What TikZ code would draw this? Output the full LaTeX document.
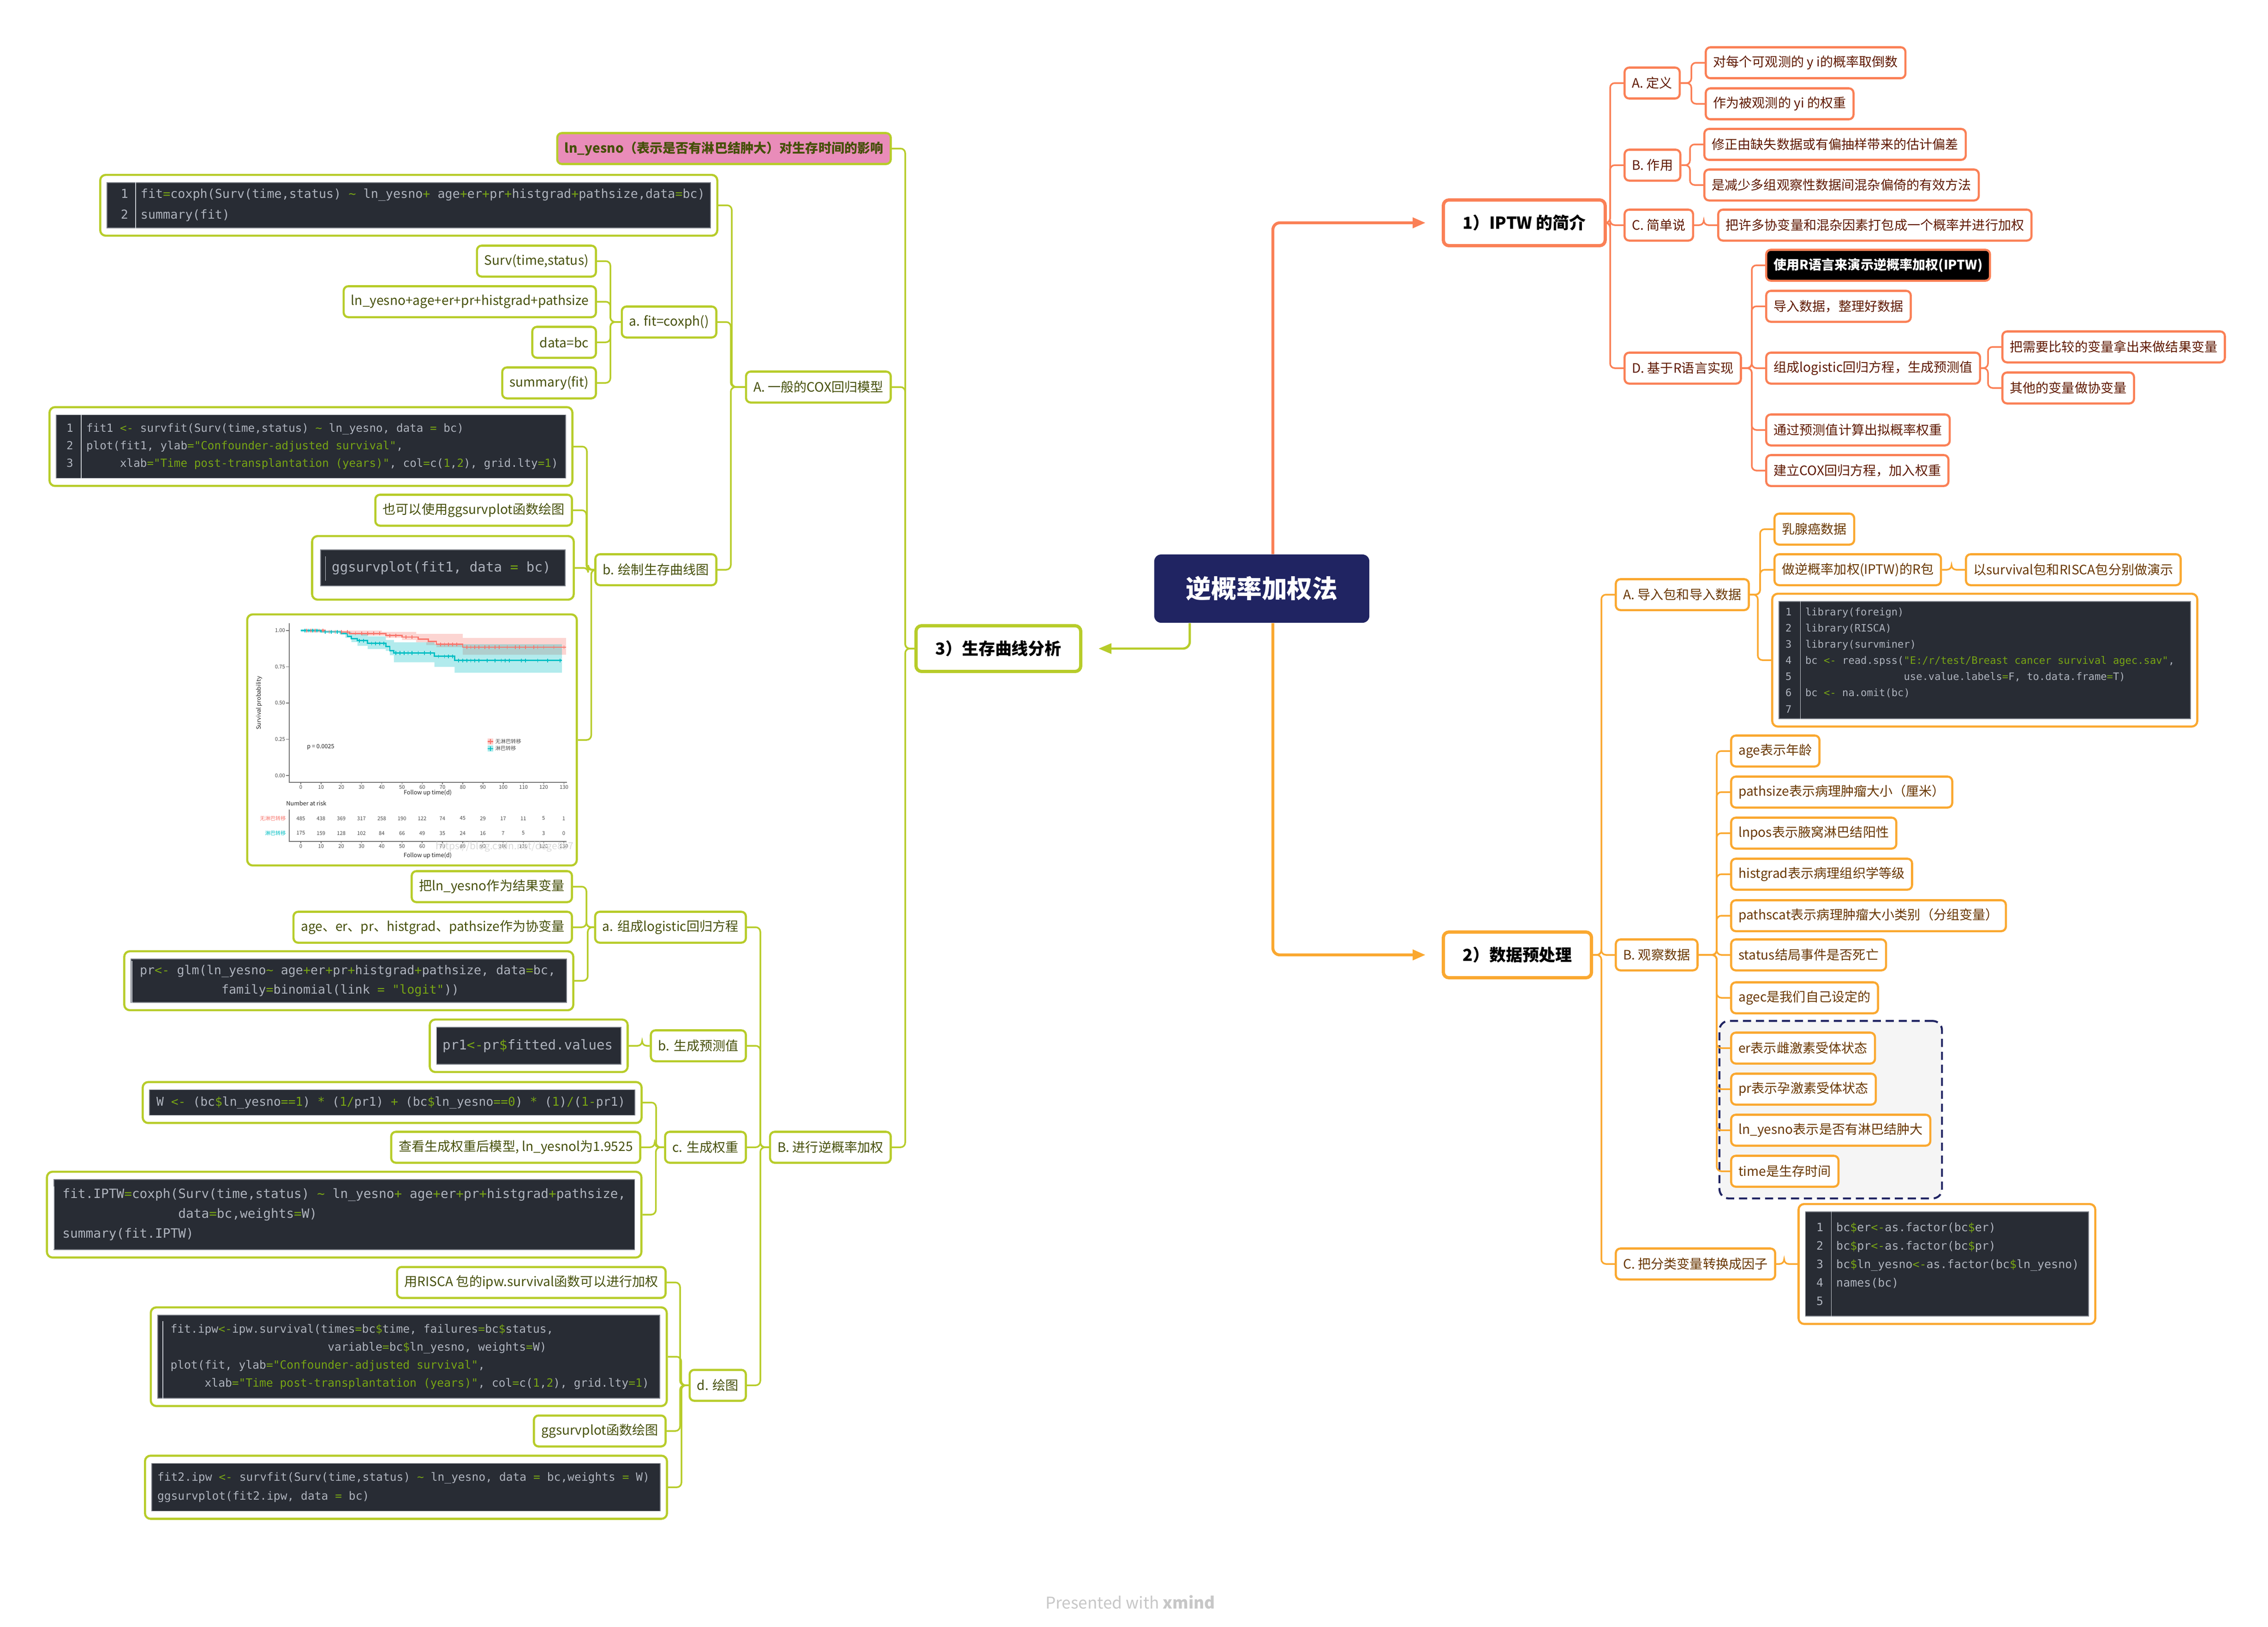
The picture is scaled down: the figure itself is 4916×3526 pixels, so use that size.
\documentclass[tikz,border=0pt]{standalone}
\usepackage{fontspec}
\setmainfont{Noto Sans CJK SC}
\setmonofont{DejaVu Sans Mono}
\usetikzlibrary{arrows.meta, positioning, calc, fit, backgrounds}

\definecolor{coral}{RGB}{250,128,86}
\definecolor{amber}{RGB}{250,168,48}
\definecolor{lime}{RGB}{183,204,42}
\definecolor{navy}{RGB}{32,36,98}
\definecolor{pinkfill}{RGB}{233,140,185}
\definecolor{coraltxt}{RGB}{95,25,0}
\definecolor{ambertxt}{RGB}{105,55,0}
\definecolor{limetxt}{RGB}{70,80,10}
\definecolor{codebg}{RGB}{40,44,52}
\definecolor{codetxt}{RGB}{175,180,190}
\definecolor{codegrn}{RGB}{120,165,20}
\definecolor{codeline}{RGB}{120,124,132}
\definecolor{kmred}{RGB}{248,118,109}
\definecolor{kmcyan}{RGB}{0,191,196}
\definecolor{groupbg}{RGB}{245,245,245}

\newcommand{\grn}[1]{\textcolor{codegrn}{#1}}
\newcommand{\lno}[1]{\makebox[0.28cm][l]{#1}\hspace{0.15cm}}
\newcommand{\ind}[1]{\hspace*{#1\fontcharwd\font`x}}
\newcommand{\codesz}[2]{\fontsize{#1}{#2}\selectfont\ttfamily}
\newcommand{\tld}{\textasciitilde}

\begin{document}
\begin{tikzpicture}[x=0.01cm, y=-0.01cm,
    rootbox/.style={fill=navy, rounded corners=0.15cm, minimum width=4.66cm, minimum height=1.48cm, text=white, font=\fontsize{15.6}{18}\selectfont\bfseries},
    maintopic/.style={draw, fill=white, rounded corners=0.12cm, line width=2pt, minimum height=0.99cm, inner xsep=0.42cm, font=\fontsize{10.2}{12}\selectfont\bfseries},
    topic/.style={draw, fill=white, rounded corners=0.1cm, line width=1.3pt, minimum height=0.67cm, inner xsep=0.16cm, font=\fontsize{8}{10}\selectfont},
    iptw/.style={topic, draw=coral, text=coraltxt},
    prep/.style={topic, draw=amber, text=ambertxt},
    surv/.style={topic, draw=lime, text=limetxt},
    codepanel/.style={fill=codebg, draw=codeline, line width=0.5pt, inner sep=0pt},
    codetext/.style={anchor=west, align=left, text=codetxt, inner sep=0pt},
    codeframe/.style={draw, rounded corners=0.12cm, line width=1.3pt, inner xsep=0.14cm, inner ysep=0.16cm},
    codesep/.style={draw=codetxt!70, line width=0.5pt},
    plotframe/.style={draw=lime, fill=white, rounded corners=0.12cm, line width=1.3pt, minimum width=7.14cm, minimum height=5.44cm},
    plotaxis/.style={draw=black!55, line width=0.4pt},
    plottxt/.style={font=\fontsize{3.2}{4}\selectfont, text=black!70, inner sep=0.5pt},
    plotlbl/.style={font=\fontsize{3.6}{4}\selectfont, text=black!85, inner sep=0.5pt},
    conn/.style={line width=1pt, rounded corners=0.1cm},
    elbowr/.style={to path={-- ($(\tikztostart -| \tikztotarget)+(-0.29cm,0)$) |- (\tikztotarget)}},
    elbowl/.style={to path={-- ($(\tikztostart -| \tikztotarget)+(0.29cm,0)$) |- (\tikztotarget)}},
    rootlink/.style={line width=1.8pt, rounded corners=0.15cm, -{Triangle[length=0.28cm, width=0.22cm]}, shorten >=0.35cm}
]
\useasboundingbox (0,0) rectangle (4916,3526);

% Central topic
\node[rootbox] (root) at (2735,1276) {逆概率加权法};

% Main topics
\node[maintopic, draw=coral, anchor=west] (t1) at (3125,483) {1）IPTW 的简介};
\node[maintopic, draw=amber, anchor=west] (t2) at (3125,2070) {2）数据预处理};
\node[maintopic, draw=lime, anchor=east] (t3) at (2346,1406) {3）生存曲线分析};

% 1) IPTW
\node[iptw, anchor=west] (i1) at (3519,180) {A. 定义};
\node[iptw, anchor=west] (i2) at (3519,358) {B. 作用};
\node[iptw, anchor=west] (i3) at (3519,488) {C. 简单说};
\node[iptw, anchor=west] (i4) at (3519,798) {D. 基于R语言实现};
\node[iptw, anchor=west] (i11) at (3695,136) {对每个可观测的 y i的概率取倒数};
\node[iptw, anchor=west] (i12) at (3695,225) {作为被观测的 yi 的权重};
\node[iptw, anchor=west] (i21) at (3692,313) {修正由缺失数据或有偏抽样带来的估计偏差};
\node[iptw, anchor=west] (i22) at (3692,401) {是减少多组观察性数据间混杂偏倚的有效方法};
\node[iptw, anchor=west] (i31) at (3722,488) {把许多协变量和混杂因素打包成一个概率并进行加权};
\node[iptw, anchor=west, fill=black, text=white, font=\fontsize{8}{10}\selectfont\bfseries] (i41) at (3826,575) {使用R语言来演示逆概率加权(IPTW)};
\node[iptw, anchor=west] (i42) at (3826,664) {导入数据，整理好数据};
\node[iptw, anchor=west] (i43) at (3826,798) {组成logistic回归方程，生成预测值};
\node[iptw, anchor=west] (i431) at (4338,752) {把需要比较的变量拿出来做结果变量};
\node[iptw, anchor=west] (i432) at (4338,841) {其他的变量做协变量};
\node[iptw, anchor=west] (i44) at (3826,932) {通过预测值计算出拟概率权重};
\node[iptw, anchor=west] (i45) at (3826,1020) {建立COX回归方程，加入权重};

% 2) data preparation
\node[prep, anchor=west] (d1) at (3500,1289) {A. 导入包和导入数据};
\node[prep, anchor=west] (d11) at (3844,1147) {乳腺癌数据};
\node[prep, anchor=west] (d12) at (3844,1235) {做逆概率加权(IPTW)的R包};
\node[prep, anchor=west] (d121) at (4259,1235) {以survival包和RISCA包分别做演示};
\node[codepanel, minimum width=8.91cm, minimum height=2.54cm] (d13p) at (4302,1431) {};
\node[codetext, font=\codesz{6.3}{10}] at ([xshift=0.14cm]d13p.west) {\lno{1}library(foreign)\\ \lno{2}library(RISCA)\\ \lno{3}library(survminer)\\ \lno{4}bc \grn{<-} read.spss(\grn{"E:/r/test/Breast cancer survival agec.sav"},\\ \lno{5}\ind{16}use.value.labels\grn{=}F, to.data.frame\grn{=}T)\\ \lno{6}bc \grn{<-} na.omit(bc)\\ \lno{7}};
\draw[codesep] ([xshift=0.47cm]d13p.north west) -- ([xshift=0.47cm]d13p.south west);
\node[codeframe, draw=amber, fit=(d13p)] (d13) {};

\node[prep, anchor=west] (d2) at (3500,2070) {B. 观察数据};
\node[prep, anchor=west] (d21) at (3750,1628) {age表示年龄};
\node[prep, anchor=west] (d22) at (3750,1717) {pathsize表示病理肿瘤大小（厘米）};
\node[prep, anchor=west] (d23) at (3750,1806) {lnpos表示腋窝淋巴结阳性};
\node[prep, anchor=west] (d24) at (3750,1895) {histgrad表示病理组织学等级};
\node[prep, anchor=west] (d25) at (3750,1985) {pathscat表示病理肿瘤大小类别（分组变量）};
\node[prep, anchor=west] (d26) at (3750,2070) {status结局事件是否死亡};
\node[prep, anchor=west] (d27) at (3750,2163) {agec是我们自己设定的};
\node[prep, anchor=west] (d28) at (3750,2272) {er表示雌激素受体状态};
\node[prep, anchor=west] (d29) at (3750,2361) {pr表示孕激素受体状态};
\node[prep, anchor=west] (d210) at (3750,2450) {ln\_yesno表示是否有淋巴结肿大};
\node[prep, anchor=west] (d211) at (3750,2539) {time是生存时间};
\begin{scope}[on background layer]
\node[draw=navy, dash pattern=on 5pt off 3pt, line width=1.2pt, fill=groupbg, rounded corners=0.2cm, inner xsep=0.23cm, inner ysep=0.23cm, fit=(d28)(d29)(d210)(d211)] (grp) {};
\end{scope}

\node[prep, anchor=west] (d3) at (3500,2740) {C. 把分类变量转换成因子};
\node[codepanel, minimum width=6.13cm, minimum height=2.26cm] (d31p) at (4220,2740) {};
\node[codetext, font=\codesz{7.1}{11.4}] at ([xshift=0.24cm]d31p.west) {\lno{1}bc\grn{\$}er\grn{<-}as.factor(bc\grn{\$}er)\\ \lno{2}bc\grn{\$}pr\grn{<-}as.factor(bc\grn{\$}pr)\\ \lno{3}bc\grn{\$}ln\_yesno\grn{<-}as.factor(bc\grn{\$}ln\_yesno)\\ \lno{4}names(bc)\\ \lno{5}};
\draw[codesep] ([xshift=0.57cm]d31p.north west) -- ([xshift=0.57cm]d31p.south west);
\node[codeframe, draw=amber, fit=(d31p)] (d31) {};

% 3) survival curves
\node[surv, anchor=east, fill=pinkfill, font=\fontsize{8}{10}\selectfont\bfseries] (s1) at (1933,322) {ln\_yesno（表示是否有淋巴结肿大）对生存时间的影响};
\node[surv, anchor=east] (s2) at (1933,839) {A. 一般的COX回归模型};
\node[surv, anchor=east] (s3) at (1933,2487) {B. 进行逆概率加权};

% A. Cox model
\node[codepanel, minimum width=13.07cm, minimum height=0.98cm] (s21p) at (886,445) {};
\node[codetext, font=\codesz{7.6}{12.8}] at ([xshift=0.3cm]s21p.west) {\lno{1}fit\grn{=}coxph(Surv(time,status) \grn{\tld} ln\_yesno\grn{+} age\grn{+}er\grn{+}pr\grn{+}histgrad\grn{+}pathsize,data\grn{=}bc)\\ \lno{2}summary(fit)};
\draw[codesep] ([xshift=0.63cm]s21p.north west) -- ([xshift=0.63cm]s21p.south west);
\node[codeframe, draw=lime, fit=(s21p)] (s21) {};

\node[surv, anchor=east] (s22) at (1555,698) {a. fit=coxph()};
\node[surv, anchor=east] (s221) at (1294,566) {Surv(time,status)};
\node[surv, anchor=east] (s222) at (1294,654) {ln\_yesno+age+er+pr+histgrad+pathsize};
\node[surv, anchor=east] (s223) at (1294,742) {data=bc};
\node[surv, anchor=east] (s224) at (1294,830) {summary(fit)};

\node[surv, anchor=east] (s23) at (1555,1235) {b. 绘制生存曲线图};
\node[codepanel, minimum width=11.03cm, minimum height=1.37cm] (s231p) at (674,968) {};
\node[codetext, font=\codesz{6.9}{10.8}] at ([xshift=0.22cm]s231p.west) {\lno{1}fit1 \grn{<-} survfit(Surv(time,status) \grn{\tld} ln\_yesno, data \grn{=} bc)\\ \lno{2}plot(fit1, ylab\grn{="Confounder-adjusted survival"},\\ \lno{3}\ind{5}xlab\grn{="Time post-transplantation (years)"}, col\grn{=}c(\grn{1},\grn{2}), grid.lty\grn{=1})};
\draw[codesep] ([xshift=0.55cm]s231p.north west) -- ([xshift=0.55cm]s231p.south west);
\node[codeframe, draw=lime, fit=(s231p)] (s231) {};
\node[surv, anchor=east] (s232) at (1242,1106) {也可以使用ggsurvplot函数绘图};
\node[codepanel, minimum width=5.29cm, minimum height=0.78cm] (s233p) at (960,1231) {};
\node[codetext, font=\codesz{8.3}{11}] at ([xshift=0.24cm]s233p.west) {ggsurvplot(fit1, data \grn{=} bc)};
\draw[codesep] ([xshift=0.11cm, yshift=-0.15cm]s233p.north west) -- ([xshift=0.11cm, yshift=0.12cm]s233p.south west);
\node[codeframe, draw=lime, inner xsep=0.18cm, inner ysep=0.29cm, fit=(s233p)] (s233) {};

% Survival curve picture
\node[plotframe] (s234) at (893,1604) {};
\begin{scope}[shift={(652,1681)}, x=0.04385cm, y=3.14cm]
  % confidence bands
  \fill[kmred, fill opacity=0.3] (3,1) -- (40,1) -- (40,0.99) -- (57,0.99) -- (57,0.977) -- (80,0.977) -- (80,0.948) -- (131,0.948) -- (131,0.833) -- (80,0.833) -- (80,0.885) -- (67,0.885) -- (67,0.9) -- (62,0.9) -- (62,0.919) -- (57,0.919) -- (57,0.935) -- (50,0.935) -- (50,0.95) -- (42,0.95) -- (42,0.965) -- (30,0.965) -- (30,0.975) -- (20,0.975) -- (20,0.99) -- (3,0.99) -- cycle;
  \fill[kmcyan, fill opacity=0.3] (0,1) -- (20,1) -- (20,0.99) -- (25,0.99) -- (25,0.975) -- (33,0.975) -- (33,0.96) -- (42,0.96) -- (42,0.935) -- (46,0.935) -- (46,0.919) -- (66,0.919) -- (66,0.905) -- (129,0.905) -- (129,0.709) -- (76,0.709) -- (76,0.749) -- (66,0.749) -- (66,0.781) -- (46,0.781) -- (46,0.83) -- (44,0.83) -- (44,0.86) -- (42,0.86) -- (42,0.873) -- (33,0.873) -- (33,0.895) -- (28,0.895) -- (28,0.92) -- (25,0.92) -- (25,0.95) -- (22,0.95) -- (22,0.975) -- (19,0.975) -- (19,0.99) -- (0,0.99) -- cycle;
  % curves
  \draw[kmred, line width=0.8pt] (0,1) -| (12,0.99) -| (24,0.98) -| (42,0.965) -| (50,0.955) -| (58,0.94) -| (63,0.925) -| (67,0.905) -| (80,0.885) -- (131,0.885);
  \draw[kmcyan, line width=0.8pt] (0,1) -| (10,0.99) -| (20,0.98) -| (23,0.96) -| (25,0.945) -| (28,0.93) -| (33,0.911) -| (42,0.89) -| (44,0.86) -| (46,0.845) -| (66,0.822) -| (76,0.793) -- (129,0.793);
  % censoring marks
  \foreach \t/\s in {3/1,5/1,7/1,9/1,11/1,14/0.99,17/0.99,20/0.99,23/0.99,27/0.98,30/0.98,33/0.98,36/0.98,39/0.98,44/0.965,47/0.965,52/0.955,55/0.955,69/0.905,71/0.905,73/0.905,75/0.905,77/0.905,82/0.885,84/0.885,86/0.885,88/0.885,91/0.885,93/0.885,96/0.885,98/0.885,102/0.885,106/0.885,108/0.885,111/0.885,115/0.885,117/0.885,120/0.885,125/0.885,130/0.885}
    \draw[kmred, line width=0.5pt] (\t,\s-0.013) -- (\t,\s+0.013);
  \foreach \t/\s in {2/1,4/1,6/1,8/1,12/0.99,15/0.99,18/0.99,29/0.93,31/0.93,35/0.911,37/0.911,39/0.911,41/0.911,47/0.845,49/0.845,51/0.845,53/0.845,55/0.845,58/0.845,61/0.845,64/0.845,68/0.822,71/0.822,73/0.822,75/0.822,78/0.793,80/0.793,82/0.793,84/0.793,86/0.793,88/0.793,92/0.793,96/0.793,99/0.793,101/0.793,103/0.793,109/0.793,111/0.793,117/0.793,122/0.793,128/0.793}
    \draw[kmcyan, line width=0.5pt] (\t,\s-0.013) -- (\t,\s+0.013);
  % axes
  \draw[plotaxis] (-5.7,1.05) -- (-5.7,-0.048) -- (131.4,-0.048);
  \foreach \s in {0.00,0.25,0.50,0.75,1.00} {
    \draw[plotaxis] (-5.7,\s) -- (-7.2,\s);
    \node[plottxt, anchor=east] at (-7.2,\s) {\s};
  }
  \foreach \t in {0,10,...,130} {
    \draw[plotaxis] (\t,-0.048) -- (\t,-0.06);
    \node[plottxt, anchor=north] at (\t,-0.06) {\t};
  }
  \node[plotlbl] at (62.7,-0.12) {Follow up time(d)};
  \node[plotlbl, rotate=90] at (-20.5,0.5) {Survival probability};
  \node[plotlbl, anchor=west] at (2.5,0.197) {p = 0.0025};
  % legend
  \fill[kmred!35] (92.4,0.213) rectangle (95.1,0.255);
  \draw[kmred, line width=0.6pt] (92.4,0.234) -- (95.1,0.234) (93.75,0.218) -- (93.75,0.25);
  \fill[kmcyan!35] (92.4,0.165) rectangle (95.1,0.207);
  \draw[kmcyan, line width=0.6pt] (92.4,0.186) -- (95.1,0.186) (93.75,0.17) -- (93.75,0.202);
  \node[plottxt, anchor=west] at (95.5,0.234) {无淋巴转移};
  \node[plottxt, anchor=west] at (95.5,0.186) {淋巴转移};
\end{scope}
% risk table
\node[plotlbl, anchor=west] at (618,1742) {Number at risk};
\node[plottxt, text=kmred, anchor=east] at (622,1774) {无淋巴转移};
\node[plottxt, text=kmcyan, anchor=east] at (622,1806) {淋巴转移};
\foreach \n [count=\i from 0] in {485,438,369,317,258,190,122,74,45,29,17,11,5,1}
  \node[plottxt] at ({652+43.85*\i},1774) {\n};
\foreach \n [count=\i from 0] in {175,159,128,102,84,66,49,35,24,16,7,5,3,0}
  \node[plottxt] at ({652+43.85*\i},1806) {\n};
\draw[plotaxis] (627,1755) -- (627,1824) -- (1228,1824);
\foreach \t [count=\i from 0] in {0,10,...,130} {
  \draw[plotaxis] ({652+43.85*\i},1824) -- ({652+43.85*\i},1828);
  \node[plottxt, anchor=north] at ({652+43.85*\i},1828) {\t};
}
\node[plotlbl] at (927,1855) {Follow up time(d)};
\node[text=black!15, font=\fontsize{6}{7}\selectfont] at (1094,1836) {https://blog.csdn.net/dege857};

% B. weighting
\node[surv, anchor=east] (s31) at (1619,2010) {a. 组成logistic回归方程};
\node[surv, anchor=east] (s311) at (1242,1922) {把ln\_yesno作为结果变量};
\node[surv, anchor=east] (s312) at (1242,2010) {age、er、pr、histgrad、pathsize作为协变量};
\node[codepanel, minimum width=9.43cm, minimum height=0.94cm] (s313p) at (756,2126) {};
\node[codetext, font=\codesz{7.6}{12}] at ([xshift=0.19cm]s313p.west) {pr\grn{<-} glm(ln\_yesno\grn{\tld} age\grn{+}er\grn{+}pr\grn{+}histgrad\grn{+}pathsize, data\grn{=}bc,\\ \ind{11}family\grn{=}binomial(link \grn{= "logit"}))};
\draw[codesep] ([xshift=0.03cm, yshift=-0.05cm]s313p.north west) -- ([xshift=0.03cm]s313p.south west);
\node[codeframe, draw=lime, fit=(s313p)] (s313) {};

\node[surv, anchor=east] (s32) at (1619,2267) {b. 生成预测值};
\node[codepanel, minimum width=3.99cm, minimum height=0.8cm] (s321p) at (1146,2267) {};
\node[codetext, font=\codesz{8.3}{10}] at ([xshift=0.13cm]s321p.west) {pr1\grn{<-}pr\grn{\$}fitted.values};
\node[codeframe, draw=lime, fit=(s321p)] (s321) {};

\node[surv, anchor=east] (s33) at (1619,2487) {c. 生成权重};
\node[codepanel, minimum width=10.51cm, minimum height=0.55cm] (s331p) at (850,2390) {};
\node[codetext, font=\codesz{7.5}{10}] at ([xshift=0.15cm]s331p.west) {W \grn{<-} (bc\grn{\$}ln\_yesno\grn{==1}) \grn{*} (\grn{1/}pr1) \grn{+} (bc\grn{\$}ln\_yesno\grn{==0}) \grn{*} (\grn{1})\grn{/}(\grn{1-}pr1)};
\node[codeframe, draw=lime, fit=(s331p)] (s331) {};
\node[surv, anchor=east] (s332) at (1390,2487) {查看生成权重后模型, ln\_yesnol为1.9525};
\node[codepanel, minimum width=12.58cm, minimum height=1.52cm] (s333p) at (746,2633) {};
\node[codetext, font=\codesz{7.9}{12.2}] at ([xshift=0.19cm]s333p.west) {fit.IPTW\grn{=}coxph(Surv(time,status) \grn{\tld} ln\_yesno\grn{+} age\grn{+}er\grn{+}pr\grn{+}histgrad\grn{+}pathsize,\\ \ind{15}data\grn{=}bc,weights\grn{=}W)\\ summary(fit.IPTW)};
\draw[codesep] ([xshift=0.01cm, yshift=-0.16cm]s333p.north west) -- ([xshift=0.01cm, yshift=0.02cm]s333p.south west);
\node[codeframe, draw=lime, fit=(s333p)] (s333) {};

\node[surv, anchor=east] (s34) at (1619,3003) {d. 绘图};
\node[surv, anchor=east] (s341) at (1445,2780) {用RISCA 包的ipw.survival函数可以进行加权};
\node[codepanel, minimum width=10.88cm, minimum height=1.8cm] (s342p) at (886,2941) {};
\node[codetext, font=\codesz{7}{11.1}] at ([xshift=0.28cm]s342p.west) {fit.ipw\grn{<-}ipw.survival(times\grn{=}bc\grn{\$}time, failures\grn{=}bc\grn{\$}status,\\ \ind{23}variable\grn{=}bc\grn{\$}ln\_yesno, weights\grn{=}W)\\ plot(fit, ylab\grn{="Confounder-adjusted survival"},\\ \ind{5}xlab\grn{="Time post-transplantation (years)"}, col\grn{=}c(\grn{1},\grn{2}), grid.lty\grn{=1})};
\draw[codesep] ([xshift=0.12cm, yshift=-0.14cm]s342p.north west) -- ([xshift=0.12cm]s342p.south west);
\node[codeframe, draw=lime, fit=(s342p)] (s342) {};
\node[surv, anchor=east] (s343) at (1445,3102) {ggsurvplot函数绘图};
\node[codepanel, minimum width=11.01cm, minimum height=1.03cm] (s344p) at (880,3224) {};
\node[codetext, font=\codesz{7}{11.7}] at ([xshift=0.12cm]s344p.west) {fit2.ipw \grn{<-} survfit(Surv(time,status) \grn{\tld} ln\_yesno, data \grn{=} bc,weights \grn{=} W)\\ ggsurvplot(fit2.ipw, data \grn{=} bc)};
\node[codeframe, draw=lime, fit=(s344p)] (s344) {};

% Footer
\node[text=black!22, font=\fontsize{10}{12}\selectfont] (foot) at (2450,3473) {Presented with \textbf{xmind}};

% Links from the central topic
\draw[rootlink, coral] ([xshift=0.24cm]root.north) |- (t1.west);
\draw[rootlink, amber] ([xshift=0.24cm]root.south) |- (t2.west);
\draw[rootlink, lime, line width=1.4pt] ([xshift=-1.56cm]root.south) |- (t3.east);

% Branch connectors
\path[conn, color=coral]
    (t1.east) edge[elbowr] (i1.west) edge[elbowr] (i2.west) edge[elbowr] (i3.west) edge[elbowr] (i4.west)
    (i1.east) edge[elbowr] (i11.west) edge[elbowr] (i12.west)
    (i2.east) edge[elbowr] (i21.west) edge[elbowr] (i22.west)
    (i3.east) edge[elbowr] (i31.west)
    (i4.east) edge[elbowr] (i41.west) edge[elbowr] (i42.west) edge[elbowr] (i43.west) edge[elbowr] (i44.west) edge[elbowr] (i45.west)
    (i43.east) edge[elbowr] (i431.west) edge[elbowr] (i432.west);

\path[conn, color=amber]
    (t2.east) edge[elbowr] (d1.west) edge[elbowr] (d2.west) edge[elbowr] (d3.west)
    (d1.east) edge[elbowr] (d11.west) edge[elbowr] (d12.west) edge[elbowr] (d13.west)
    (d12.east) edge[elbowr] (d121.west)
    (d2.east) edge[elbowr] (d21.west) edge[elbowr] (d22.west) edge[elbowr] (d23.west) edge[elbowr] (d24.west)
              edge[elbowr] (d25.west) edge[elbowr] (d26.west) edge[elbowr] (d27.west) edge[elbowr] (d28.west)
              edge[elbowr] (d29.west) edge[elbowr] (d210.west) edge[elbowr] (d211.west)
    (d3.east) edge[elbowr] (d31.west);

\path[conn, color=lime]
    (t3.west) edge[elbowl] (s1.east) edge[elbowl] (s2.east) edge[elbowl] (s3.east)
    (s2.west) edge[elbowl] (s21.east) edge[elbowl] (s22.east) edge[elbowl] (s23.east)
    (s22.west) edge[elbowl] (s221.east) edge[elbowl] (s222.east) edge[elbowl] (s223.east) edge[elbowl] (s224.east)
    (s23.west) edge[elbowl] (s231.east) edge[elbowl] (s232.east) edge[elbowl] (s233.east) edge[elbowl] (s234.east)
    (s3.west) edge[elbowl] (s31.east) edge[elbowl] (s32.east) edge[elbowl] (s33.east) edge[elbowl] (s34.east)
    (s31.west) edge[elbowl] (s311.east) edge[elbowl] (s312.east) edge[elbowl] (s313.east)
    (s32.west) edge[elbowl] (s321.east)
    (s33.west) edge[elbowl] (s331.east) edge[elbowl] (s332.east) edge[elbowl] (s333.east)
    (s34.west) edge[elbowl] (s341.east) edge[elbowl] (s342.east) edge[elbowl] (s343.east) edge[elbowl] (s344.east);

\end{tikzpicture}
\end{document}
